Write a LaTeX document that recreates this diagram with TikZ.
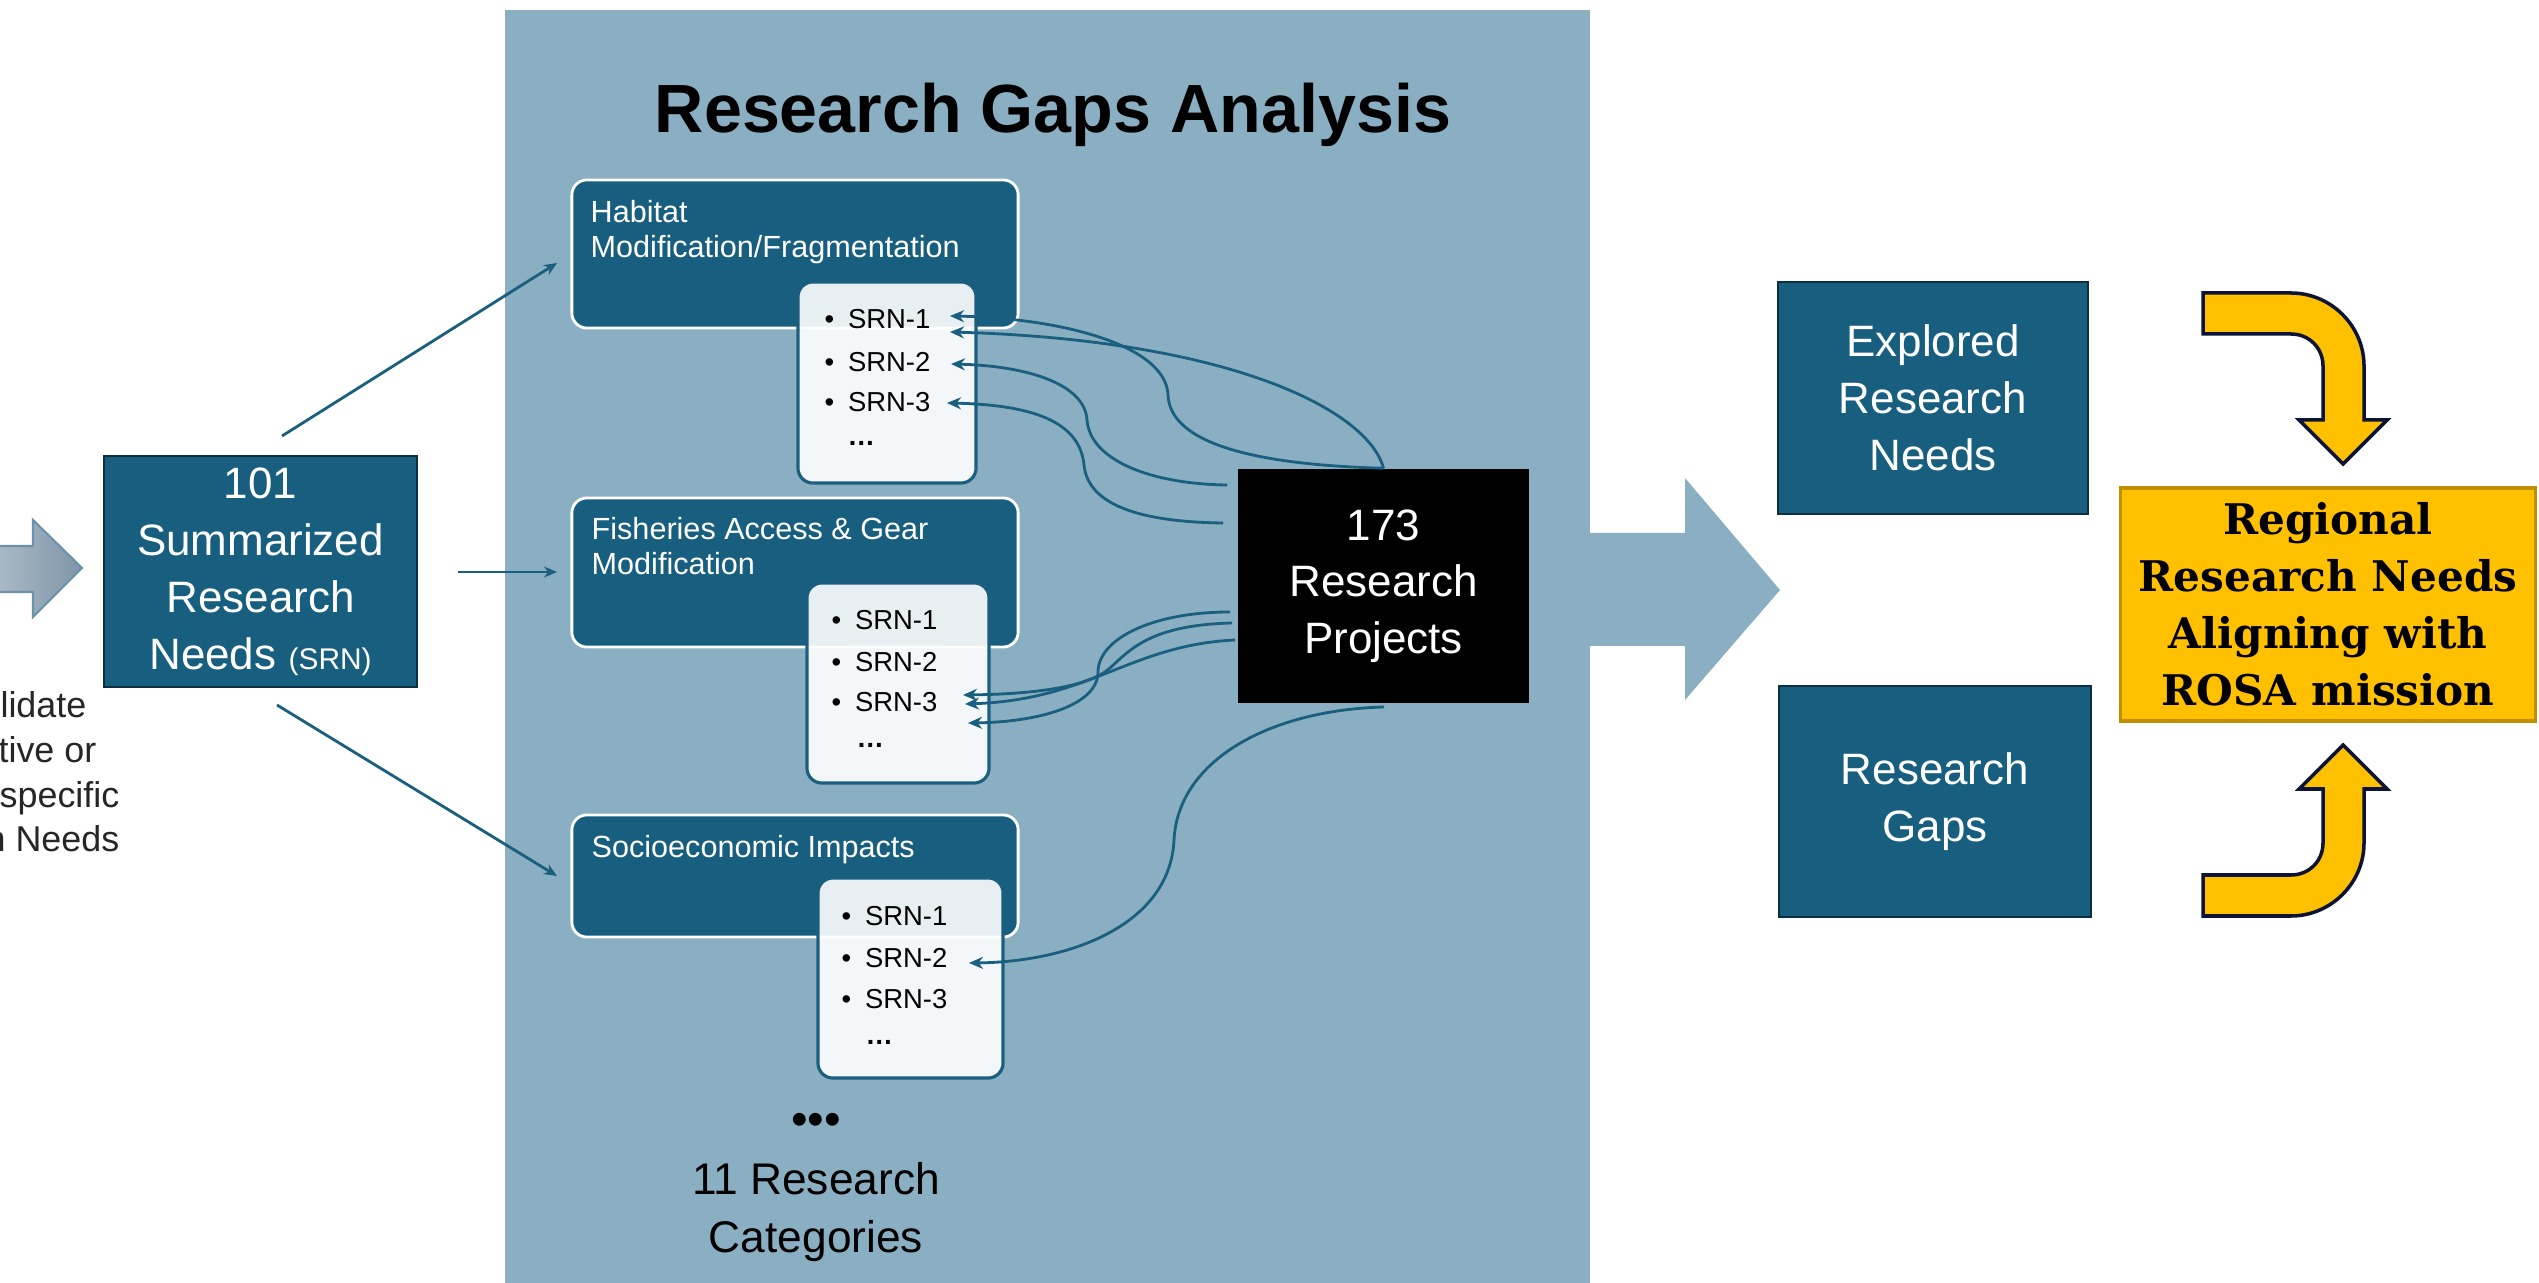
\documentclass[tikz,border=0pt]{standalone}
\usepackage{fontspec}
\setmainfont{Liberation Sans}
\newfontfamily\serifb{DejaVu Serif}
\usetikzlibrary{arrows.meta,calc}
\definecolor{panelc}{HTML}{8BAFC2}
\definecolor{darkc}{HTML}{175E7F}
\definecolor{linec}{HTML}{1B5F80}
\definecolor{edgec}{HTML}{0E2F40}
\definecolor{goldc}{HTML}{FFC000}
\definecolor{goldedge}{HTML}{BF9000}
\definecolor{navyc}{HTML}{0D1433}
\definecolor{grayl}{HTML}{B4C1CE}
\definecolor{grayd}{HTML}{7E95A8}
\definecolor{grayedge}{HTML}{6A93AB}
\begin{document}
\begin{tikzpicture}[x=0.01cm,y=-0.01cm,
  catbox/.style={draw=white, line width=0.8pt, fill=darkc, rounded corners=0.15cm, inner sep=0},
  listbox/.style={draw=linec, line width=0.9pt, fill=white, fill opacity=0.9, rounded corners=0.15cm, inner sep=0},
  darkbox/.style={fill=darkc, draw=edgec, line width=0.7pt, text=white, align=center, inner sep=0, font=\fontsize{12.5}{16.2}\selectfont},
  cattext/.style={text=white, anchor=base west, inner sep=0, font=\fontsize{8.7}{10}\selectfont},
  item/.style={anchor=west, inner sep=0, font=\fontsize{7.8}{9}\selectfont},
  frag/.style={anchor=base east, inner sep=0, font=\fontsize{10.2}{12}\selectfont, text=black!85},
  link/.style={draw=linec, line width=0.8pt, -{Stealth[length=0.14cm,width=0.12cm]}},
  feed/.style={draw=linec, line width=0.8pt, -{Stealth[length=0.13cm,width=0.11cm]}},
  yarrow/.style={draw=navyc, line width=1pt, fill=goldc, line join=miter}
]
\useasboundingbox (0,0) rectangle (2539,1283);
\fill[white] (0,0) rectangle (2539,1283);

% left gray arrow
\draw[grayedge, line width=0.6pt, left color=grayl, right color=grayd]
  (-20,546) -- (33,546) -- (33,520) -- (82,568) -- (33,617) -- (33,592) -- (-20,592) -- cycle;

% left text fragments
\node[frag] (t1) at (87,718) {lidate};
\node[frag] (t2) at (97,763) {tive or};
\node[frag] (t3) at (120,808) {specific};
\node[frag] (t4) at (120,852) {n Needs};

% SRN box
\node[darkbox, minimum width=3.13cm, minimum height=2.31cm] (srn) at (260.5,571.5)
  {101\\Summarized\\Research\\Needs {\fontsize{8.5}{10}\selectfont(SRN)}};

% panel and big arrow
\fill[panelc] (505,10) rectangle (1590,1283);
\fill[panelc] (1589,533) -- (1685,533) -- (1685,478) -- (1780,590) -- (1685,700) -- (1685,646) -- (1589,646) -- cycle;

\node[anchor=base, inner sep=0, font=\bfseries\fontsize{19.4}{23}\selectfont] (title) at (1053,133) {Research Gaps Analysis};

% category boxes
\node[catbox, minimum width=4.46cm, minimum height=1.48cm] (hab) at (795,254) {};
\node[catbox, minimum width=4.46cm, minimum height=1.49cm] (fish) at (795,572.5) {};
\node[catbox, minimum width=4.46cm, minimum height=1.22cm] (socio) at (795,876) {};

\node[cattext] (hab1) at (590,223) {Habitat};
\node[cattext] (hab2) at (590,258) {Modification/Fragmentation};
\node[cattext] (fish1) at (591,540) {Fisheries Access \& Gear};
\node[cattext] (fish2) at (591,575) {Modification};
\node[cattext] (soc1) at (591,858) {Socioeconomic Impacts};

% list boxes
\node[listbox, minimum width=1.78cm, minimum height=2.01cm] (hl) at (887,382.5) {};
\node[listbox, minimum width=1.82cm, minimum height=2.00cm] (fl) at (898,683) {};
\node[listbox, minimum width=1.85cm, minimum height=2.00cm] (sl) at (910.5,978) {};

\node[item] (h1) at (824,319) {•\hspace{0.5em}SRN-1};
\node[item] (h2) at (824,362) {•\hspace{0.5em}SRN-2};
\node[item] (h3) at (824,402) {•\hspace{0.5em}SRN-3};
\node[item, font=\bfseries\fontsize{7.8}{9}\selectfont] (h4) at (847,443) {…};
\node[item] (f1) at (831,620) {•\hspace{0.5em}SRN-1};
\node[item] (f2) at (831,662) {•\hspace{0.5em}SRN-2};
\node[item] (f3) at (831,702) {•\hspace{0.5em}SRN-3};
\node[item, font=\bfseries\fontsize{7.8}{9}\selectfont] (f4) at (856,745) {…};
\node[item] (s1) at (841,916) {•\hspace{0.5em}SRN-1};
\node[item] (s2) at (841,958) {•\hspace{0.5em}SRN-2};
\node[item] (s3) at (841,999) {•\hspace{0.5em}SRN-3};
\node[item, font=\bfseries\fontsize{7.8}{9}\selectfont] (s4) at (865,1042) {…};

\node[inner sep=0, font=\fontsize{13.5}{14}\selectfont] (dots) at (816,1124) {•••};
\node[inner sep=0, align=center, font=\fontsize{12.6}{16.4}\selectfont] (cats) at (816,1212) {11 Research\\Categories};

% research projects
\node[fill=black, text=white, align=center, inner sep=0, minimum width=2.91cm, minimum height=2.34cm,
  font=\fontsize{12.5}{16}\selectfont] (rp) at (1383.5,586) {173\\Research\\Projects};

% connectors from SRN box
\coordinate (a1s) at (282,436); \coordinate (a1e) at (557,263);
\coordinate (a2s) at (458,572); \coordinate (a2e) at (557,572);
\coordinate (a3s) at (277,705); \coordinate (a3e) at (557,876);
\draw[feed] (a1s) -- (a1e);
\draw[feed] (a2s) -- (a2e);
\draw[feed] (a3s) -- (a3e);

% tips
\coordinate (h1a) at (950,316);
\coordinate (h1b) at (950,332);
\coordinate (h2a) at (951,364);
\coordinate (h3a) at (947,403);
\coordinate (f3a) at (963,695);
\coordinate (f3b) at (965,704);
\coordinate (f3c) at (968,723);
\coordinate (s2a) at (969,963);
% starts
\coordinate (r1) at (1227,485);
\coordinate (r2) at (1223,523);
\coordinate (r3) at (1230,612);
\coordinate (r4) at (1232,623);
\coordinate (r5) at (1235,640);
\coordinate (r6) at (1384,707);

\draw[link] (rp.north) .. controls (1260,465) and (1170,445) .. (1168,395)
  .. controls (1166,345) and (1060,318) .. (h1a);
\draw[link] (rp.north) .. controls (1368,410) and (1230,340) .. (h1b);
\draw[link] (r1) .. controls (1150,484) and (1090,460) .. (1087,420)
  .. controls (1085,385) and (1030,366) .. (h2a);
\draw[link] (r2) .. controls (1140,522) and (1088,505) .. (1084,465)
  .. controls (1080,425) and (1040,405) .. (h3a);
\draw[link] (r3) .. controls (1150,612) and (1098,640) .. (1098,672)
  .. controls (1098,705) and (1040,722) .. (f3c);
\draw[link] (r4) .. controls (1150,625) and (1130,650) .. (1110,668)
  .. controls (1090,686) and (1040,694) .. (f3a);
\draw[link] (r5) .. controls (1130,645) and (1090,700) .. (f3b);
\draw[link] (r6) .. controls (1270,710) and (1178,760) .. (1174,840)
  .. controls (1170,925) and (1070,962) .. (s2a);

% right boxes
\node[darkbox, minimum width=3.10cm, minimum height=2.32cm] (expl) at (1933,398) {Explored\\Research\\Needs};
\node[darkbox, minimum width=3.12cm, minimum height=2.31cm] (gaps) at (1935,801.5) {Research\\Gaps};

\node[fill=goldc, draw=goldedge, line width=0.9pt, align=center, inner sep=0,
  minimum width=4.14cm, minimum height=2.33cm,
  font=\serifb\bfseries\fontsize{12}{16.2}\selectfont] (goal) at (2328,604.5)
  {Regional\\Research Needs\\Aligning with\\ROSA mission};

% yellow bent arrows
\draw[yarrow] (2203,293) -- (2291,293) .. controls (2331,293) and (2364,326) .. (2364,366)
  -- (2364,420) -- (2387,420) -- (2343,464) -- (2299,420) -- (2323,420) -- (2323,366)
  .. controls (2323,348) and (2309,334) .. (2291,334) -- (2203,334) -- cycle;
\draw[yarrow] (2203,916) -- (2291,916) .. controls (2331,916) and (2364,883) .. (2364,843)
  -- (2364,789) -- (2387,789) -- (2343,745) -- (2299,789) -- (2323,789) -- (2323,843)
  .. controls (2323,861) and (2309,875) .. (2291,875) -- (2203,875) -- cycle;
\end{tikzpicture}
\end{document}
